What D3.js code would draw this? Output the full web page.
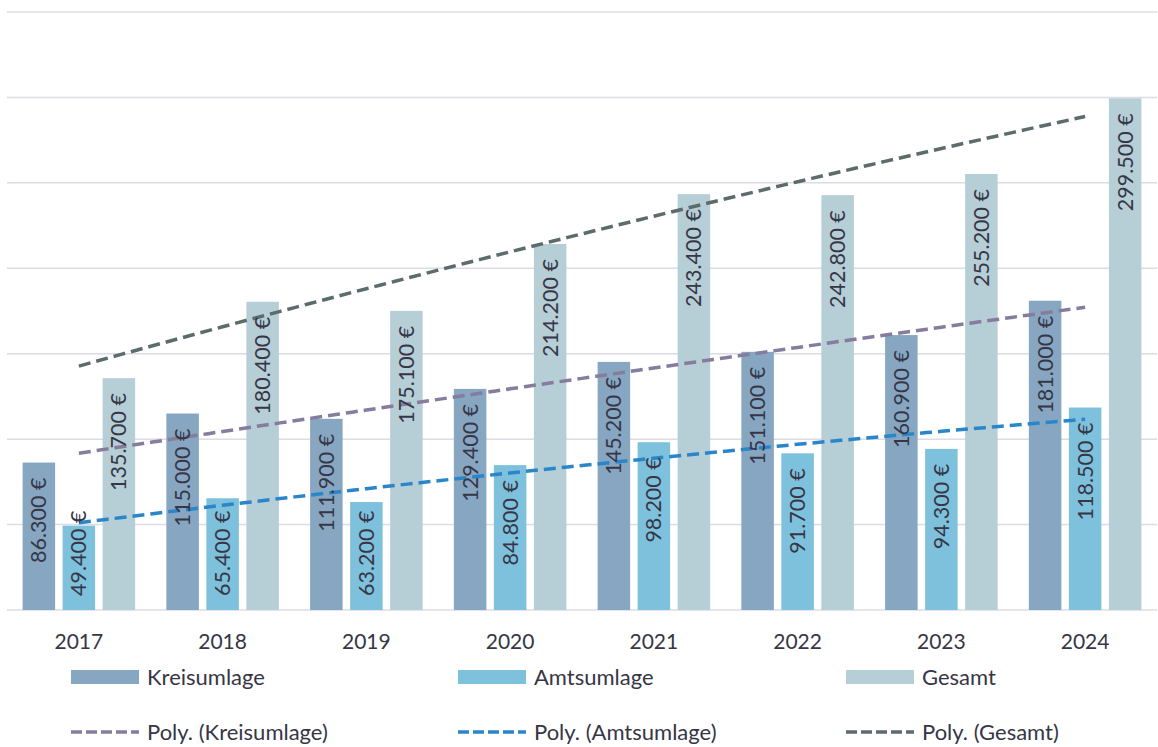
<!DOCTYPE html>
<html><head><meta charset="utf-8">
<script src="https://cdn.jsdelivr.net/npm/d3@7"></script>
<style>
html,body{margin:0;padding:0;background:#fff;}
text{font-family:Lato,"Open Sans",sans-serif;fill:#363646;}
</style></head>
<body><svg id="c" width="1158" height="747"></svg>
<script>
const years = ["2017","2018","2019","2020","2021","2022","2023","2024"];
const kreisumlage = [86300,115000,111900,129400,145200,151100,160900,181000];
const amtsumlage = [49400,65400,63200,84800,98200,91700,94300,118500];
const gesamt = [135700,180400,175100,214200,243400,242800,255200,299500];
const seriesNames = ["Kreisumlage","Amtsumlage","Gesamt"];
const trendNames = ["Poly. (Kreisumlage)","Poly. (Amtsumlage)","Poly. (Gesamt)"];
const yTicks = [0,50000,100000,150000,200000,250000,300000,350000];

const barColors = ["#86a6c2","#7ec1dc","#b6ced6"];
const trendColors = ["#857c9e","#2b85c9","#5c6b6b"];
const seriesVals = [kreisumlage, amtsumlage, gesamt];

const svg = d3.select("#c");
const x0 = d3.scaleBand().domain(years).range([7,1157]).padding(0);
const x1 = d3.scaleBand().domain(seriesNames).range([0,x0.bandwidth()]).paddingInner(0.1875).paddingOuter(0.39);
const y = d3.scaleLinear().domain([0,350000]).range([610,12]);

// gridlines
svg.append("g").selectAll("line").data(yTicks).join("line")
  .attr("x1",7).attr("x2",1157).attr("y1",d=>y(d)).attr("y2",d=>y(d))
  .attr("stroke","#dcdce4").attr("stroke-width",1.5);

// bars
const fmt = v => d3.format(",")(v).replace(/,/g,".") + " €";
seriesNames.forEach((s,si)=>{
  const g = svg.append("g");
  g.selectAll("rect").data(years).join("rect")
    .attr("x",d=>x0(d)+x1(s)).attr("width",x1.bandwidth())
    .attr("y",(d,i)=>y(seriesVals[si][i])).attr("height",(d,i)=>y(0)-y(seriesVals[si][i]))
    .attr("fill",barColors[si]);
});

// polynomial (order 2) trendlines
function polyFit(vals){
  let S=[0,0,0,0,0], T=[0,0,0];
  vals.forEach((v,i)=>{const xx=i+1; for(let k=0;k<5;k++)S[k]+=Math.pow(xx,k); for(let k=0;k<3;k++)T[k]+=v*Math.pow(xx,k);});
  const A=[[S[0],S[1],S[2],T[0]],[S[1],S[2],S[3],T[1]],[S[2],S[3],S[4],T[2]]];
  for(let i=0;i<3;i++){for(let j=i+1;j<3;j++){const f=A[j][i]/A[i][i];for(let k=i;k<4;k++)A[j][k]-=f*A[i][k];}}
  const c=[0,0,0];
  for(let i=2;i>=0;i--){let s=A[i][3];for(let k=i+1;k<3;k++)s-=A[i][k]*c[k];c[i]=s/A[i][i];}
  return xx=>c[0]+c[1]*xx+c[2]*xx*xx;
}
seriesVals.forEach((vals,si)=>{
  const f = polyFit(vals);
  const pts = d3.range(1,8.001,0.1).map(t=>[t,f(t)]);
  const xs = d3.scaleLinear().domain([1,8]).range([x0(years[0])+x0.bandwidth()/2, x0(years[7])+x0.bandwidth()/2]);
  svg.append("path").datum(pts)
    .attr("d",d3.line().x(d=>xs(d[0])).y(d=>y(d[1])))
    .attr("fill","none").attr("stroke",trendColors[si]).attr("stroke-width",3.5)
    .attr("stroke-dasharray","12,6");
});

// labels
seriesNames.forEach((s,si)=>{
  years.forEach((yr,i)=>{
    const v = seriesVals[si][i];
    const cx = x0(yr)+x1(s)+x1.bandwidth()/2;
    const t = svg.append("text").attr("font-size",21.5).attr("text-anchor","start").text(fmt(v));
    const len = t.node().getComputedTextLength();
    let top = y(v)+15;
    let bottom = top+len;
    if(bottom > y(0)-14){ bottom = y(0)-14; }
    t.attr("transform",`translate(${cx},${bottom}) rotate(-90)`).attr("dy","0.35em");
  });
});

// x axis labels
svg.append("g").selectAll("text").data(years).join("text")
  .attr("x",d=>x0(d)+x0.bandwidth()/2).attr("y",649).attr("text-anchor","middle")
  .attr("font-size",21).text(d=>d);

// legend
const legX = [71,458,846];
seriesNames.forEach((s,si)=>{
  svg.append("rect").attr("x",legX[si]).attr("y",670).attr("width",68).attr("height",14).attr("fill",barColors[si]);
  svg.append("text").attr("x",legX[si]+76).attr("y",684.5).attr("font-size",22).text(s);
  svg.append("line").attr("x1",legX[si]).attr("x2",legX[si]+68).attr("y1",732).attr("y2",732)
    .attr("stroke",trendColors[si]).attr("stroke-width",3.5).attr("stroke-dasharray","11,4");
  svg.append("text").attr("x",legX[si]+76).attr("y",739.5).attr("font-size",22).text(trendNames[si]);
});
</script></body></html>
